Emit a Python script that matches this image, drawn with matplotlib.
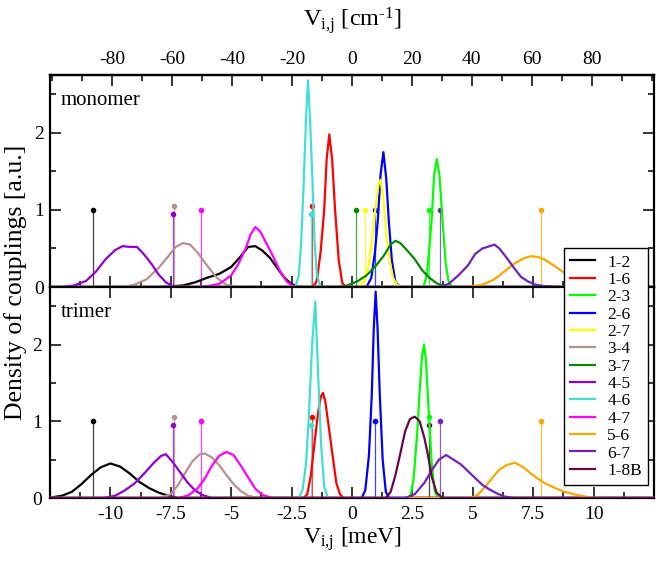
import matplotlib
matplotlib.use("Agg")
import matplotlib.pyplot as plt
import numpy as np

plt.rcParams['font.family'] = ['Liberation Serif', 'DejaVu Serif']
plt.rcParams['mathtext.fontset'] = 'custom'
plt.rcParams['mathtext.rm'] = 'Liberation Serif'
plt.rcParams['mathtext.it'] = 'Liberation Serif:italic'
plt.rcParams['axes.unicode_minus'] = False

MEV_TO_CM = 8.06554

labels = ['1-2', '1-6', '2-3', '2-6', '2-7', '3-4', '3-7', '4-5', '4-6', '4-7', '5-6', '6-7', '1-8B']
colors = ['#000000', '#ff0000', '#00ff00', '#0000ff', '#ffff00', '#bc8f8f', '#008b00',
          '#9400d3', '#40e0d0', '#ff00ff', '#ffa500', '#7221bc', '#670748']

# ---- monomer distributions (meV, a.u.) ----
m12_x = [-8.0, -7.0, -6.5, -6.0, -5.5, -5.0, -4.6, -4.3, -4.0, -3.7, -3.4, -3.1, -2.8, -2.5, -2.2]
m12_y = [0, 0.02, 0.06, 0.12, 0.17, 0.26, 0.4, 0.52, 0.53, 0.47, 0.38, 0.25, 0.12, 0.04, 0]
m16_x = [-1.65, -1.5, -1.45, -1.3, -1.15, -1.05, -0.94, -0.82, -0.7, -0.55, -0.4, -0.25]
m16_y = [0, 0.05, 0.1, 0.45, 1.0, 1.65, 1.98, 1.65, 1.0, 0.35, 0.05, 0]
m23_x = [2.95, 3.1, 3.2, 3.3, 3.4, 3.51, 3.62, 3.75, 3.88, 4.0, 4.15]
m23_y = [0, 0.15, 0.5, 0.9, 1.45, 1.66, 1.45, 0.85, 0.3, 0.07, 0]
m26_x = [0.6, 0.8, 0.95, 1.07, 1.18, 1.3, 1.42, 1.52, 1.65, 1.8, 2.0]
m26_y = [0, 0.12, 0.45, 0.87, 1.45, 1.75, 1.4, 0.87, 0.35, 0.06, 0]
m27_x = [0.3, 0.5, 0.7, 0.86, 1.0, 1.1, 1.18, 1.3, 1.42, 1.55, 1.7, 1.85, 2.05]
m27_y = [0, 0.08, 0.3, 0.7, 1.1, 1.33, 1.39, 1.15, 0.7, 0.35, 0.12, 0.03, 0]
m34_x = [-9.5, -9.0, -8.5, -8.0, -7.6, -7.3, -7.0, -6.7, -6.4, -6.0, -5.6, -5.2, -4.8]
m34_y = [0, 0.03, 0.1, 0.25, 0.4, 0.52, 0.57, 0.55, 0.45, 0.28, 0.12, 0.03, 0]
m37_x = [-0.6, -0.2, 0.2, 0.6, 1.0, 1.3, 1.6, 1.8, 2.0, 2.3, 2.6, 2.9, 3.2, 3.5, 3.9]
m37_y = [0, 0.02, 0.07, 0.15, 0.28, 0.4, 0.55, 0.6, 0.57, 0.47, 0.36, 0.22, 0.12, 0.05, 0]
m45_x = [-12.0, -11.5, -11.0, -10.6, -10.2, -9.8, -9.5, -9.2, -8.9, -8.6, -8.3, -8.0, -7.7, -7.4, -7.0]
m45_y = [0, 0.02, 0.08, 0.2, 0.36, 0.48, 0.53, 0.52, 0.52, 0.42, 0.3, 0.16, 0.06, 0.01, 0]
m46_x = [-2.35, -2.2, -2.1, -2.0, -1.9, -1.82, -1.74, -1.65, -1.55, -1.45, -1.3]
m46_y = [0, 0.15, 0.6, 1.35, 2.2, 2.68, 2.2, 1.5, 0.6, 0.15, 0]
m47_x = [-6.5, -6.0, -5.5, -5.0, -4.7, -4.4, -4.2, -4.0, -3.8, -3.6, -3.3, -3.0, -2.7, -2.4]
m47_y = [0, 0.01, 0.04, 0.15, 0.3, 0.5, 0.68, 0.78, 0.72, 0.6, 0.42, 0.22, 0.07, 0]
m56_x = [4.8, 5.4, 5.9, 6.3, 6.7, 7.1, 7.4, 7.7, 8.0, 8.4, 8.8, 9.2, 9.6, 10.0, 10.5]
m56_y = [0, 0.03, 0.1, 0.2, 0.3, 0.37, 0.4, 0.39, 0.35, 0.27, 0.18, 0.1, 0.05, 0.02, 0]
m67_x = [3.6, 4.0, 4.4, 4.8, 5.1, 5.4, 5.7, 5.9, 6.1, 6.4, 6.7, 7.0, 7.3, 7.6, 8.0, 8.6]
m67_y = [0, 0.04, 0.15, 0.28, 0.43, 0.5, 0.53, 0.55, 0.5, 0.38, 0.25, 0.13, 0.07, 0.03, 0.01, 0]

# ---- trimer distributions ----
t12_x = [-12.4, -12.0, -11.6, -11.2, -10.8, -10.4, -10.0, -9.6, -9.2, -8.8, -8.4, -8.0, -7.6, -7.2]
t12_y = [0.01, 0.03, 0.08, 0.18, 0.3, 0.4, 0.45, 0.41, 0.32, 0.21, 0.13, 0.07, 0.03, 0]
t16_x = [-2.0, -1.85, -1.7, -1.55, -1.4, -1.28, -1.2, -1.1, -0.95, -0.8, -0.65, -0.5, -0.35]
t16_y = [0, 0.05, 0.3, 0.72, 1.12, 1.33, 1.37, 1.25, 0.9, 0.55, 0.2, 0.05, 0]
t23_x = [2.4, 2.55, 2.7, 2.8, 2.9, 2.98, 3.06, 3.18, 3.3, 3.42, 3.55]
t23_y = [0, 0.25, 0.85, 1.4, 1.85, 2.0, 1.8, 1.1, 0.45, 0.1, 0]
t26_x = [0.4, 0.55, 0.7, 0.82, 0.9, 0.98, 1.06, 1.15, 1.27, 1.4, 1.55]
t26_y = [0, 0.1, 0.55, 1.35, 2.2, 2.69, 2.2, 1.35, 0.5, 0.08, 0]
t34_x = [-8.0, -7.5, -7.2, -6.9, -6.6, -6.3, -6.1, -5.8, -5.5, -5.2, -4.9, -4.6, -4.3, -3.9]
t34_y = [0, 0.05, 0.17, 0.33, 0.48, 0.57, 0.58, 0.53, 0.43, 0.3, 0.18, 0.09, 0.03, 0]
t45_x = [-10.3, -9.8, -9.4, -9.0, -8.6, -8.2, -7.9, -7.7, -7.4, -7.1, -6.8, -6.5, -6.2, -5.8]
t45_y = [0, 0.03, 0.1, 0.19, 0.32, 0.46, 0.55, 0.57, 0.46, 0.33, 0.2, 0.1, 0.04, 0]
t46_x = [-2.2, -2.05, -1.9, -1.78, -1.65, -1.52, -1.4, -1.28, -1.15, -1.0]
t46_y = [0, 0.1, 0.45, 1.1, 2.0, 2.56, 1.6, 0.7, 0.15, 0]
t47_x = [-7.2, -6.8, -6.4, -6.1, -5.8, -5.5, -5.2, -4.9, -4.6, -4.3, -4.0, -3.7, -3.3]
t47_y = [0, 0.03, 0.12, 0.25, 0.42, 0.55, 0.6, 0.56, 0.42, 0.27, 0.12, 0.04, 0]
t56_x = [4.9, 5.2, 5.5, 5.8, 6.1, 6.4, 6.75, 7.1, 7.4, 7.7, 8.0, 8.4, 8.8, 9.3, 9.8, 10.2]
t56_y = [0, 0.04, 0.14, 0.26, 0.37, 0.43, 0.46, 0.4, 0.32, 0.25, 0.19, 0.13, 0.08, 0.04, 0.01, 0]
t67_x = [2.2, 2.6, 3.0, 3.3, 3.6, 3.9, 4.2, 4.5, 4.8, 5.1, 5.4, 5.7, 6.0, 6.3, 6.7]
t67_y = [0, 0.05, 0.2, 0.36, 0.5, 0.56, 0.5, 0.44, 0.35, 0.26, 0.17, 0.11, 0.06, 0.02, 0]
t18_x = [1.4, 1.6, 1.8, 2.0, 2.2, 2.4, 2.6, 2.8, 3.0, 3.15, 3.3, 3.5, 3.75]
t18_y = [0, 0.08, 0.3, 0.58, 0.87, 1.03, 1.06, 1.0, 0.78, 0.55, 0.28, 0.07, 0]

# ---- reference couplings (sticks) ----
mono_stick_lab = ['1-2', '1-6', '2-3', '2-6', '2-7', '3-4', '3-7', '4-5', '4-6', '4-7', '5-6', '6-7']
mono_stick_x = [-10.74, -1.65, 3.17, 0.97, 0.53, -7.35, 0.16, -7.42, -1.68, -6.26, 7.84, 3.63]
mono_stick_h = [1.0, 1.05, 1.0, 1.0, 1.0, 1.05, 1.0, 0.95, 0.95, 1.0, 1.0, 1.0]
tri_stick_lab = ['1-2', '1-6', '2-3', '2-6', '3-4', '4-5', '4-6', '4-7', '5-6', '6-7', '1-8B']
tri_stick_x = [-10.74, -1.65, 3.17, 0.97, -7.35, -7.42, -1.68, -6.26, 7.84, 3.63, 3.17]
tri_stick_h = [1.0, 1.05, 1.05, 1.0, 1.05, 0.95, 0.95, 1.0, 1.0, 1.0, 0.95]

mono = {'1-2': (m12_x, m12_y), '1-6': (m16_x, m16_y), '2-3': (m23_x, m23_y),
        '2-6': (m26_x, m26_y), '2-7': (m27_x, m27_y), '3-4': (m34_x, m34_y),
        '3-7': (m37_x, m37_y), '4-5': (m45_x, m45_y), '4-6': (m46_x, m46_y),
        '4-7': (m47_x, m47_y), '5-6': (m56_x, m56_y), '6-7': (m67_x, m67_y)}
tri = {'1-2': (t12_x, t12_y), '1-6': (t16_x, t16_y), '2-3': (t23_x, t23_y),
       '2-6': (t26_x, t26_y), '3-4': (t34_x, t34_y), '4-5': (t45_x, t45_y),
       '4-6': (t46_x, t46_y), '4-7': (t47_x, t47_y), '5-6': (t56_x, t56_y),
       '6-7': (t67_x, t67_y), '1-8B': (t18_x, t18_y)}
col = dict(zip(labels, colors))

XMIN, XMAX = -12.4, 12.4

fig = plt.figure(figsize=(6.63, 5.64), dpi=100)
ax1 = fig.add_axes([0.0754, 0.4911, 0.9110, 0.3759])
ax2 = fig.add_axes([0.0754, 0.117, 0.9110, 0.3741])

handles = {}
for ax, data, slab, sx, sh in [(ax1, mono, mono_stick_lab, mono_stick_x, mono_stick_h),
                               (ax2, tri, tri_stick_lab, tri_stick_x, tri_stick_h)]:
    for lab, x, h in zip(slab, sx, sh):
        ax.plot([x, x], [0, h], color=col[lab], lw=0.9, alpha=0.75, zorder=2)
        ax.plot([x], [h], 'o', color=col[lab], ms=3, zorder=3)
    for lab in labels:
        if lab not in data:
            continue
        x, y = data[lab]
        xx = np.concatenate([[XMIN - 1], x, [XMAX + 1]])
        yy = np.concatenate([[0], y, [0]])
        ln, = ax.plot(xx, yy, color=col[lab], lw=1.6, zorder=4)
        handles.setdefault(lab, ln)

for ax in (ax1, ax2):
    ax.set_xlim(XMIN, XMAX)
    ax.set_ylim(0, 2.75)
    ax.set_xticks(np.arange(-10, 10.1, 2.5))
    ax.set_xticks(np.arange(-12.5, 12.6, 1.25), minor=True)
    ax.set_yticks([0, 1, 2])
    ax.set_yticks([0.5, 1.5, 2.5], minor=True)
    ax.tick_params(which='both', direction='in', right=True, labelsize=14, width=1.1)
    ax.tick_params(which='major', length=8)
    ax.tick_params(which='minor', length=4)
    ax.tick_params(axis='y', pad=4)
    for s in ax.spines.values():
        s.set_linewidth(1.6)

ax1.tick_params(labelbottom=False, top=False)
ax2.tick_params(top=True, pad=6)
ax2.set_xticklabels(['-10', '-7.5', '-5', '-2.5', '0', '2.5', '5', '7.5', '10'])
ax2.set_xlabel(r'V$_{\mathrm{i{,}j}}$ [meV]', fontsize=17, labelpad=1)

sec = ax1.secondary_xaxis('top', functions=(lambda v: v * MEV_TO_CM, lambda v: v / MEV_TO_CM))
sec.set_xticks(np.arange(-80, 81, 20))
sec.set_xticks(np.arange(-100, 101, 10), minor=True)
sec.tick_params(which='both', direction='in', labelsize=14, width=1.1, pad=5)
sec.tick_params(which='major', length=8)
sec.tick_params(which='minor', length=4)
sec.spines['top'].set_linewidth(1.6)
sec.set_xlabel(r'V$_{\mathrm{i{,}j}}$ [cm$^{\text{-1}}$]', fontsize=17.5, labelpad=18)

ax1.text(0.017, 0.86, 'monomer', transform=ax1.transAxes, fontsize=15)
ax2.text(0.017, 0.86, 'trimer', transform=ax2.transAxes, fontsize=15)

fig.text(0.024, 0.50, 'Density of couplings [a.u.]', rotation=90, fontsize=18.5,
         ha='center', va='center')

leg = fig.legend([handles[l] for l in labels], labels, loc='lower right',
                 bbox_to_anchor=(648 / 663, 79 / 564), fontsize=12.5, frameon=True,
                 fancybox=False, edgecolor='black', framealpha=1,
                 handlelength=1.45, handletextpad=0.7, labelspacing=0.07,
                 borderpad=0.35, borderaxespad=0)
leg.get_frame().set_linewidth(1.0)
leg.set_zorder(10)

fig.savefig('out.png', dpi=100)
